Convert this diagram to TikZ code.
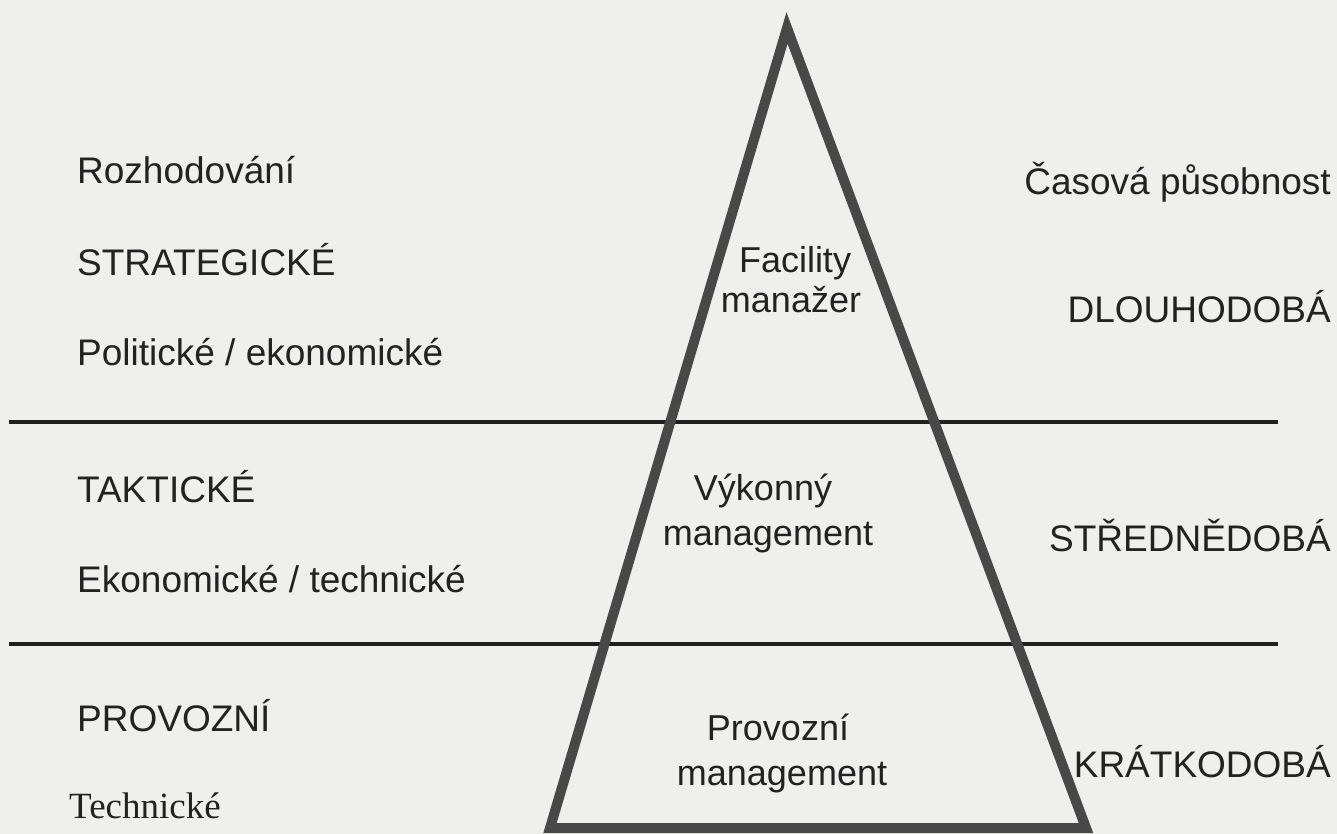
\documentclass[tikz,border=0pt]{standalone}
\usepackage{fontspec}
\setmainfont{Liberation Sans}
\newfontfamily\serifface{Liberation Serif}
\definecolor{paper}{RGB}{239,239,238}
\definecolor{ink}{RGB}{34,34,34}
\definecolor{tri}{RGB}{72,72,72}
\tikzset{
  lbl/.style={inner sep=0pt, text=ink, font=\fontsize{37}{44}\selectfont},
  lleft/.style={lbl, anchor=base west},
  lright/.style={lbl, anchor=base east},
  lmid/.style={lbl, anchor=base, font=\fontsize{36}{43}\selectfont},
  divider/.style={draw=ink!90!black, line width=3.2pt},
  pyramid/.style={draw=tri, line width=10pt, line join=miter, miter limit=20}
}
\begin{document}
\begin{tikzpicture}[x=1pt, y=-1pt]
\fill[paper] (0,0) rectangle (1337,834);
\useasboundingbox (0,0) rectangle (1337,834);
% divider lines
\coordinate (d1a) at (9,422);
\coordinate (d1b) at (1278,422);
\coordinate (d2a) at (9,644);
\coordinate (d2b) at (1278,644);
\draw[divider] (d1a) -- (d1b);
\draw[divider] (d2a) -- (d2b);
% pyramid
\coordinate (apex) at (787,28);
\coordinate (bl) at (550,828);
\coordinate (br) at (1086,828);
\draw[pyramid] (apex) -- (br) -- (bl) -- cycle;
% left labels
\node[lleft] (roz) at (77,184) {Rozhodování};
\node[lleft] (str) at (77,275) {STRATEGICKÉ};
\node[lleft] (pol) at (77,365) {Politické / ekonomické};
\node[lleft] (tak) at (77,502) {TAKTICKÉ};
\node[lleft] (eko) at (77,592) {Ekonomické / technické};
\node[lleft] (pro) at (77,731) {PROVOZNÍ};
\node[lleft, font=\serifface\fontsize{37}{44}\selectfont] (tec) at (69,818) {Technické};
% right labels
\node[lright] (cas) at (1331,195) {Časová působnost};
\node[lright] (dlo) at (1331,322) {DLOUHODOBÁ};
\node[lright] (str2) at (1331,551) {STŘEDNĚDOBÁ};
\node[lright] (kra) at (1331,777) {KRÁTKODOBÁ};
% pyramid labels
\node[lmid] (fac1) at (795,272) {Facility};
\node[lmid] (fac2) at (791,312) {manažer};
\node[lmid] (vyk1) at (763,500) {Výkonný};
\node[lmid] (vyk2) at (768,545) {management};
\node[lmid] (prv1) at (778,740) {Provozní};
\node[lmid] (prv2) at (782,785) {management};
\end{tikzpicture}
\end{document}
